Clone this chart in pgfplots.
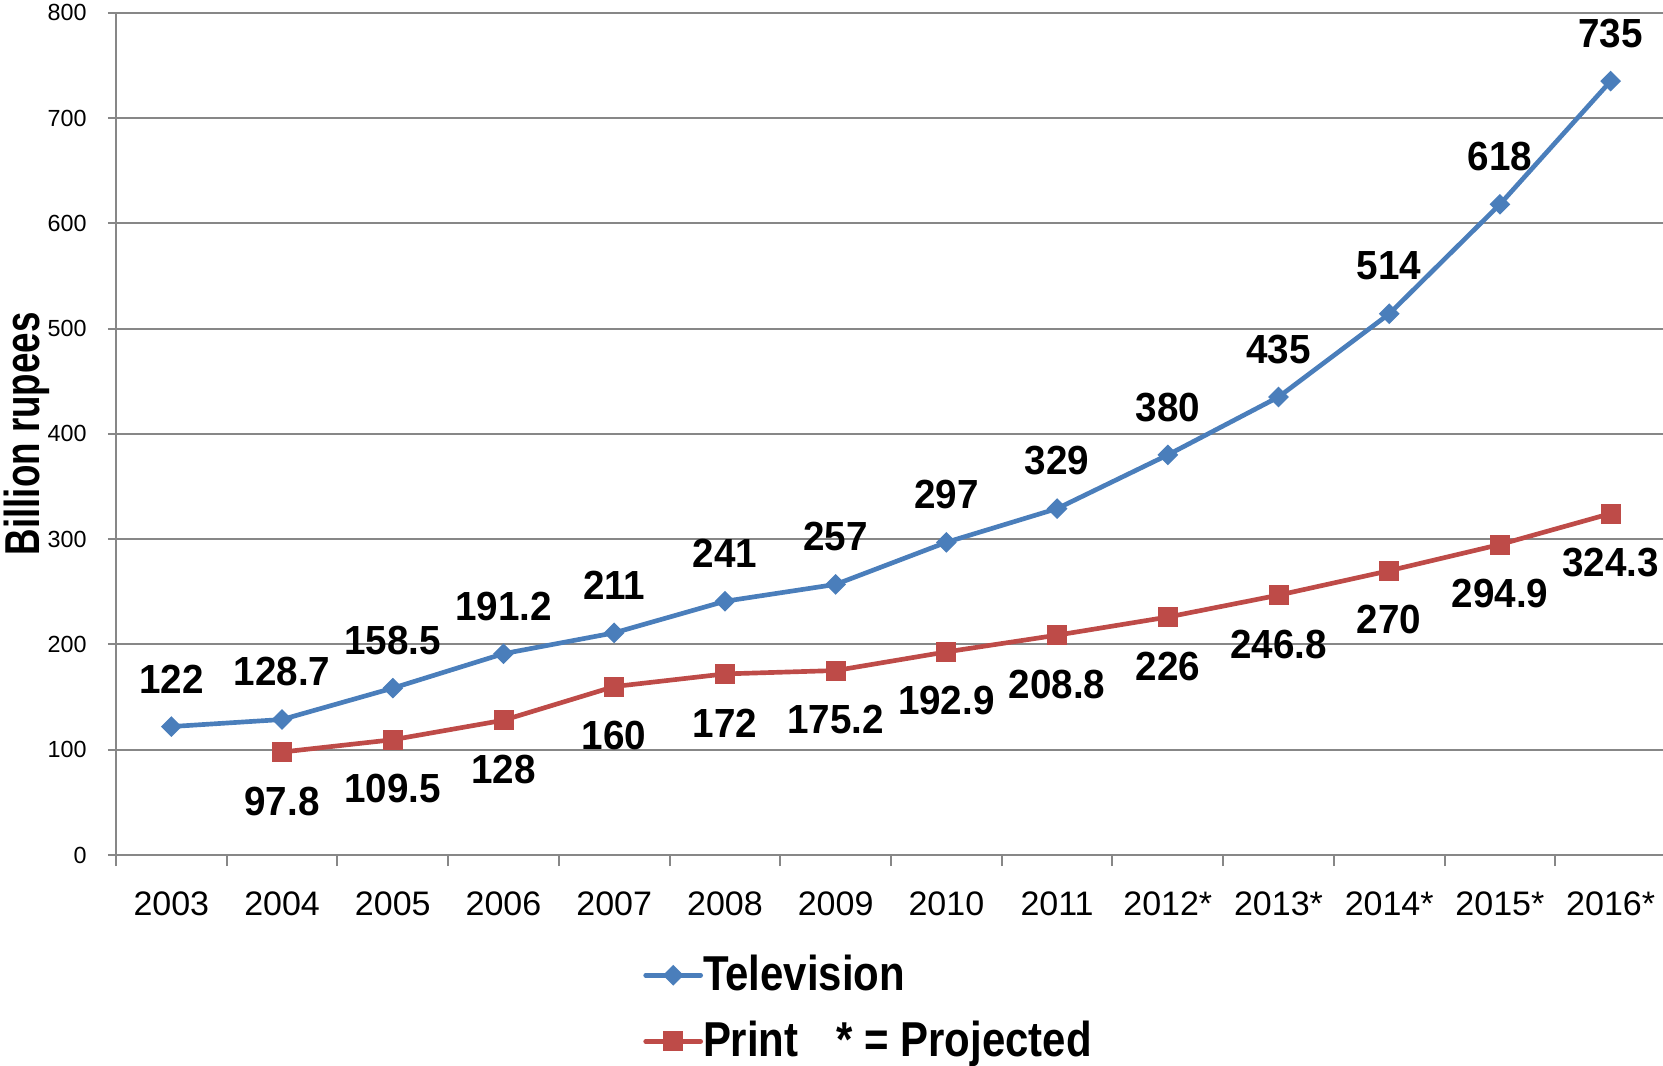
\documentclass[border=0pt]{standalone}
\usepackage{fontspec}
\setmainfont{Liberation Sans}
\newfontfamily\lblfont[FakeStretch=0.95]{Liberation Sans}
\newfontfamily\legfont[FakeStretch=0.856]{Liberation Sans}
\newfontfamily\ylabfont[FakeStretch=0.75]{Liberation Sans}
\usepackage{pgfplots}
\usepackage{pgfplotstable}
\pgfplotsset{compat=1.18}
\definecolor{tvblue}{HTML}{4A7EBB}
\definecolor{prred}{HTML}{BE4B48}
\definecolor{gridgray}{HTML}{878787}

\pgfplotstableread{
x y lab
0 122 122
1 128.7 128.7
2 158.5 158.5
3 191.2 191.2
4 211 211
5 241 241
6 257 257
7 297 297
8 329 329
9 380 380
10 435 435
11 514 514
12 618 618
13 735 735
}\tvdata

\pgfplotstableread{
x y lab
1 97.8 97.8
2 109.5 109.5
3 128 128
4 160 160
5 172 172
6 175.2 175.2
7 192.9 192.9
8 208.8 208.8
9 226 226
10 246.8 246.8
11 270 270
12 294.9 294.9
13 324.3 324.3
}\prdata

\begin{document}
\begin{tikzpicture}
\useasboundingbox (-34.8pt,-63pt) rectangle (464.1pt,256.5pt);
\begin{axis}[
  at={(0pt,0pt)}, anchor=south west,
  scale only axis, width=465pt, height=252.7pt,
  xmin=-0.5, xmax=13.5, ymin=0, ymax=800,
  clip=false,
  axis x line*=bottom, axis y line*=left,
  axis line style={gridgray, line width=0.6pt, -},
  ytick={0,100,...,800},
  ymajorgrids, grid style={gridgray, line width=0.6pt},
  xtick={0,...,13},
  xticklabels={2003,2004,2005,2006,2007,2008,2009,2010,2011,2012*,2013*,2014*,2015*,2016*},
  minor xtick={-0.5,0.5,...,13.5},
  tick align=outside,
  major tick length=2.4pt, minor tick length=3.3pt,
  tick style={gridgray, line width=0.6pt},
  major x tick style={draw=none},
  /pgf/number format/assume math mode=true,
  xticklabel style={font=\fontsize{10.2}{12}\selectfont, yshift=-5.1pt},
  yticklabel style={font=\fontsize{7}{8}\selectfont, xshift=-2.9pt},
  ylabel={Billion rupees},
  every axis y label/.style={at={(axis description cs:-0.0574,0.5)}, rotate=90, anchor=center,
     font=\ylabfont\bfseries\fontsize{14.7}{16}\selectfont},
  legend cell align=left,
  legend style={at={(axis description cs:0.3398,-0.1179)}, anchor=north west,
     draw=none, fill=none, inner sep=0pt, row sep=7.7pt, column sep=0pt,
     font=\legfont\bfseries\fontsize{14.7}{16}\selectfont,
     nodes={inner sep=0pt}},
  legend image code/.code={\draw[line cap=round, #1, mark repeat=2, mark phase=2]
     plot coordinates {(0pt,0pt) (8.25pt,0pt) (16.5pt,0pt)};},
]
\addplot[tvblue, line width=1.4pt, mark=square*, mark size=2pt,
  mark options={rotate=45, solid, fill=tvblue, line width=0.4pt},
  nodes near coords, point meta=explicit symbolic,
  every node near coord/.append style={font=\lblfont\bfseries\fontsize{12.2}{14}\selectfont,
     text=black, anchor=center, yshift=14.3pt, inner sep=0pt}]
  table[x=x, y=y, meta=lab] {\tvdata};
\addlegendentry{Television}
\addplot[prred, line width=1.4pt, mark=square*, mark size=2.8pt,
  mark options={solid, fill=prred, line width=0.4pt},
  nodes near coords, point meta=explicit symbolic,
  every node near coord/.append style={font=\lblfont\bfseries\fontsize{12.2}{14}\selectfont,
     text=black, anchor=center, yshift=-14.7pt, inner sep=0pt}]
  table[x=x, y=y, meta=lab] {\prdata};
\addlegendentry{Print\hspace{11.4pt}* = Projected}
\end{axis}
\end{tikzpicture}
\end{document}
